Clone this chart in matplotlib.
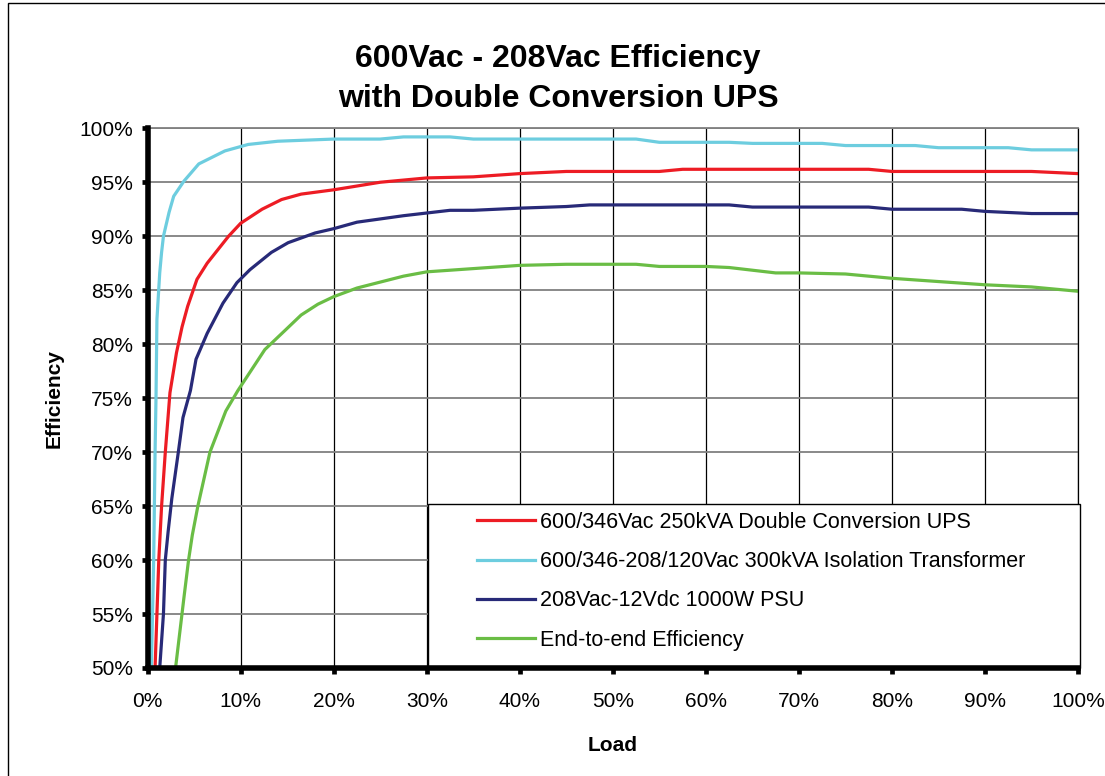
import matplotlib
matplotlib.use("Agg")
import matplotlib.pyplot as plt
from matplotlib.patches import Rectangle
from matplotlib.ticker import FuncFormatter, MultipleLocator

plt.rcParams['font.family'] = ['Liberation Sans', 'DejaVu Sans']

# load (%) / efficiency (%)
ups_load = [0.8, 1.0, 1.2, 1.5, 1.9, 2.4, 3.1, 3.7, 4.3, 5.3, 6.4, 8.7, 10, 12.3,
            14.4, 16.5, 20, 25, 30, 35, 40, 45, 55, 57.5, 77.5, 80, 95, 100]
ups_eff = [50, 55, 60, 65, 70, 75.5, 79.2, 81.6, 83.5, 86, 87.5, 90, 91.2, 92.5,
           93.4, 93.9, 94.3, 95.0, 95.4, 95.5, 95.8, 96.0, 96.0, 96.2, 96.2, 96.0, 96.0, 95.8]

xfmr_load = [0.4, 0.65, 0.8, 0.9, 1.0, 1.3, 1.5, 1.7, 2.3, 2.8, 3.9, 5.5, 8.3, 10.8,
             14, 20, 25, 27.5, 32.5, 35, 52.5, 55, 62.5, 65, 72.5, 75, 82.5, 85,
             92.5, 95, 100]
xfmr_eff = [50, 60, 70, 75, 82.3, 86.6, 88.5, 90, 92.2, 93.7, 95.1, 96.7, 97.9, 98.5,
            98.8, 99.0, 99.0, 99.2, 99.2, 99.0, 99.0, 98.7, 98.7, 98.6, 98.6, 98.4, 98.4, 98.2,
            98.2, 98.0, 98.0]

psu_load = [1.3, 1.7, 1.9, 2.2, 2.6, 3.3, 3.8, 4.6, 5.2, 6.4, 8.1, 9.6, 11, 13.3,
            15.1, 18, 20, 22.5, 27.5, 32.5, 35, 40, 45, 47.5, 62.5, 65, 77.5, 80,
            87.5, 90, 95, 100]
psu_eff = [50, 55, 60, 62.6, 65.7, 70, 73.2, 75.7, 78.6, 81, 83.8, 85.7, 86.9, 88.5,
           89.4, 90.3, 90.7, 91.3, 91.9, 92.4, 92.4, 92.6, 92.75, 92.9, 92.9, 92.7, 92.7, 92.5,
           92.5, 92.3, 92.1, 92.1]

e2e_load = [3.0, 3.9, 4.4, 4.8, 5.4, 6.7, 8.4, 9.7, 12.6, 14.8, 16.5, 18.3, 20, 22.5,
            27.5, 30, 35, 40, 45, 52.5, 55, 60, 62.5, 67.5, 70, 75, 80, 85, 90, 95, 100]
e2e_eff = [50, 56.5, 60, 62.3, 65, 70, 73.8, 75.7, 79.5, 81.3, 82.7, 83.7, 84.4, 85.2,
           86.3, 86.7, 87.0, 87.3, 87.4, 87.4, 87.2, 87.2, 87.1, 86.6, 86.6, 86.5, 86.1, 85.8,
           85.5, 85.3, 84.9]

labels = ["600/346Vac 250kVA Double Conversion UPS",
          "600/346-208/120Vac 300kVA Isolation Transformer",
          "208Vac-12Vdc 1000W PSU",
          "End-to-end Efficiency"]
colors = ["#ED1C24", "#6DCDDF", "#282A78", "#6ABD45"]

fig = plt.figure(figsize=(11.05, 7.76), dpi=100)
ax = fig.add_axes([0.1336, 0.1392, 0.842, 0.6955])

series = [(ups_load, ups_eff), (xfmr_load, xfmr_eff), (psu_load, psu_eff), (e2e_load, e2e_eff)]
for (x, y), c, lab in zip(series, colors, labels):
    ax.plot(x, y, color=c, lw=2.3, label=lab, zorder=2, solid_joinstyle='round')

ax.set_xlim(0, 100)
ax.set_ylim(50, 100)
ax.xaxis.set_major_locator(MultipleLocator(10))
ax.yaxis.set_major_locator(MultipleLocator(5))
pct = FuncFormatter(lambda v, p: "{:.0f}%".format(v))
ax.xaxis.set_major_formatter(pct)
ax.yaxis.set_major_formatter(pct)

ax.set_axisbelow(True)
ax.yaxis.grid(True, color="#808080", lw=1.3)
ax.xaxis.grid(True, color="black", lw=0.9)

for s in ["left", "bottom"]:
    ax.spines[s].set_linewidth(4)
    ax.spines[s].set_zorder(4)
ax.spines["top"].set_color("#808080")
ax.spines["top"].set_linewidth(1.3)
ax.spines["right"].set_linewidth(0.9)
ax.tick_params(axis="both", direction="out", length=4.5, width=3.4, labelsize=15, color="black")
ax.tick_params(axis="x", pad=13)
ax.tick_params(axis="y", pad=6)

# legend box
ax.add_patch(Rectangle((0.3017, 0.0), 0.70, 0.303, transform=ax.transAxes,
                       facecolor="white", edgecolor="black", lw=1, zorder=3, clip_on=False))
ax.legend(loc="center left", bbox_to_anchor=(0.3426, 0.1607), frameon=False,
          fontsize=15.5, borderpad=0, handlelength=2.7, handletextpad=0.2,
          labelspacing=0.85).set_zorder(5)

ax.set_xlabel("Load", fontsize=15, fontweight="bold", labelpad=18)
ax.set_ylabel("Efficiency", fontsize=15, fontweight="bold", labelpad=11)

fig.text(0.505, 0.914, "600Vac - 208Vac Efficiency", ha="center", va="baseline",
         fontsize=23, fontweight="bold")
fig.text(0.505, 0.8617, "with Double Conversion UPS", ha="center", va="baseline",
         fontsize=23, fontweight="bold")

# outer chart border (left and top edges are visible)
fig.add_artist(Rectangle((8 / 1105, -0.05), 1.2, 1.05 - 3 / 776, transform=fig.transFigure,
                         facecolor="none", edgecolor="black", lw=1))

fig.savefig("out.png", dpi=100)
